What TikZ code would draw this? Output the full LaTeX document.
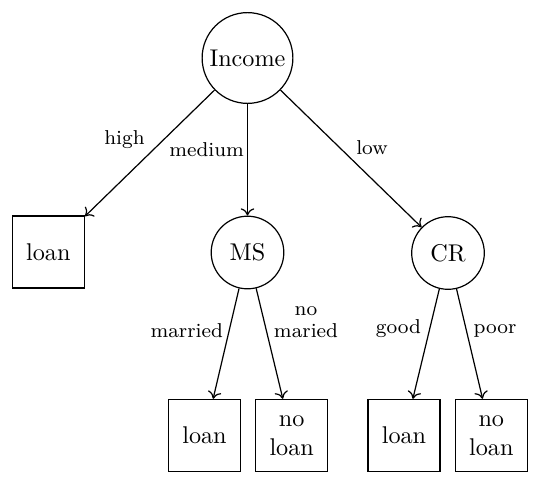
\documentclass[tikz,border=0pt]{standalone}
\usetikzlibrary{arrows.meta}
\begin{document}
\begin{tikzpicture}[x=0.4132pt,y=-0.4132pt,line width=0.5pt,
  attr/.style={draw,circle,inner sep=0pt},
  leaf/.style={draw,rectangle,inner sep=0pt,minimum size=29.8pt,align=center},
  lbl/.style={anchor=base,inner sep=0pt,font=\fontsize{8.3}{10}\selectfont,align=center},
  edge/.style={-{To[length=3pt,width=5.6pt]}}]
\useasboundingbox (0,0) rectangle (540,485);
\node[attr,minimum width=37.5pt] (inc) at (247.5,58) {Income};
\node[leaf] (l1) at (48.3,252) {loan};
\node[attr,minimum size=30pt] (ms) at (247.5,252.5) {MS};
\node[attr,minimum size=30pt] (cr) at (448,253) {CR};
\node[leaf] (l2) at (204.5,435.5) {loan};
\node[leaf] (n2) at (291.7,435.5) {no\\loan};
\node[leaf] (l3) at (404,435.5) {loan};
\node[leaf] (n3) at (491.3,435.5) {no\\loan};
\draw[edge] (inc) -- (l1);
\draw[edge] (inc) -- (ms);
\draw[edge] (inc) -- (cr);
\draw[edge] (ms) -- (l2);
\draw[edge] (ms) -- (n2);
\draw[edge] (cr) -- (l3);
\draw[edge] (cr) -- (n3);
\node[lbl] (thigh) at (124.5,144.8) {high};
\node[lbl] (tmed) at (206.6,156) {medium};
\node[lbl] (tlow) at (372,154) {low};
\node[lbl] (tmar) at (186.7,337.3) {married};
\node[lbl] (tno) at (306,315) {no};
\node[lbl] (tnomar) at (306,337.3) {maried};
\node[lbl] (tgood) at (398.5,333.3) {good};
\node[lbl] (tpoor) at (495,333.3) {poor};
\end{tikzpicture}
\end{document}
